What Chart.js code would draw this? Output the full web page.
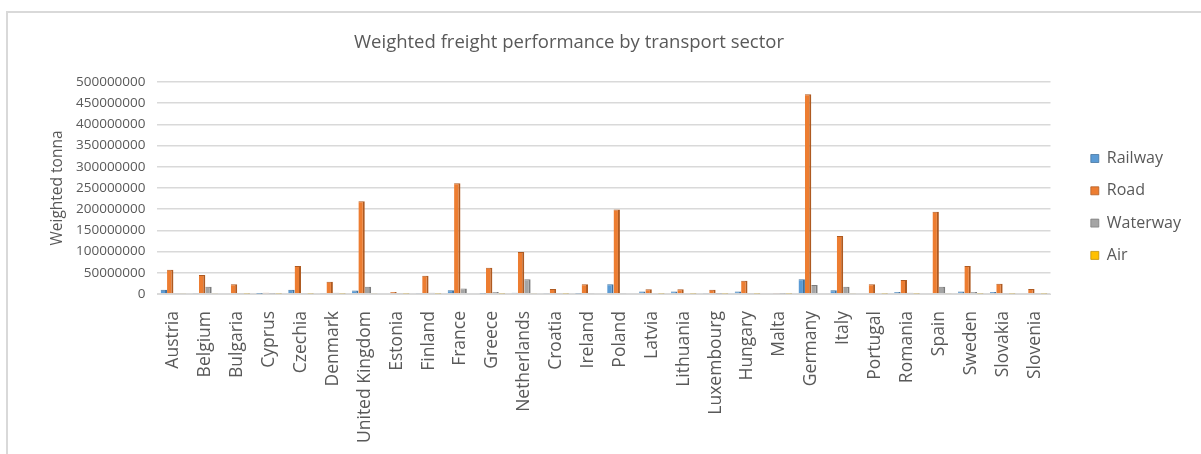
<!DOCTYPE html>
<html>
<head>
<meta charset="utf-8">
<script src="https://cdn.jsdelivr.net/npm/chart.js@4/dist/chart.umd.min.js"></script>
<style>
  html, body { margin: 0; padding: 0; background: #fff; overflow: hidden; }
  #frame {
    position: absolute; left: 6px; top: 11px;
    width: 1200px; height: 450px;
    border-left: 2px solid #d9d9d9; border-top: 2px solid #d9d9d9;
  }
  #wrap { position: absolute; left: 0; top: 0; width: 1193px; height: 441px; }
</style>
</head>
<body>
<div id="frame"><div id="wrap"><canvas id="freightChart"></canvas></div></div>
<script>
// values in millions of weighted tonnes
const countries = ['Austria', 'Belgium', 'Bulgaria', 'Cyprus', 'Czechia', 'Denmark', 'United Kingdom',
    'Estonia', 'Finland', 'France', 'Greece', 'Netherlands', 'Croatia', 'Ireland', 'Poland', 'Latvia',
    'Lithuania', 'Luxembourg', 'Hungary', 'Malta', 'Germany', 'Italy', 'Portugal', 'Romania', 'Spain',
    'Sweden', 'Slovakia', 'Slovenia'];
const railway = [10, 1, 2, 0.2, 10, 1, 8, 2, 1, 9, 0.5, 3, 1, 0.5, 23, 6, 6, 1, 6, 0, 35, 9, 2, 5, 2, 6, 5, 2];
const road = [57, 45, 23, 3, 66, 29, 219, 5, 43, 261, 62, 99, 12, 23, 199, 11, 11, 10, 31, 1, 471, 137, 23, 33, 194, 66, 24, 12];
const waterway = [1, 17, 1, 0.3, 1, 3, 17, 1, 3, 13, 5, 35, 1, 1, 1, 2, 2, 0.5, 1, 0.5, 21, 17, 2, 3, 17, 5, 1, 1];
const air = [1, 1, 0.5, 0.3, 0.5, 0.5, 1, 0.3, 0.5, 1.5, 0.5, 1, 0.3, 2, 2, 0.3, 0.3, 0.5, 0.5, 0.3, 1.5, 1, 0.5, 0.5, 1, 0.5, 0.3, 0.3];
const UNIT = 1000000;
const yMax = 500000000;
const yStep = 50000000;

const FONT = "'Open Sans', 'Noto Sans', sans-serif";
const TEXT = '#595959';

function series(label, values, fill, edge) {
    return {
        label: label,
        data: values.map(v => v * UNIT),
        backgroundColor: fill,
        borderColor: edge,
        borderWidth: { top: 1, right: 2, left: 0, bottom: 0 },
        borderSkipped: false,
        categoryPercentage: 0.8,
        barPercentage: 1.0
    };
}

// Chart title and axis title drawn by hand, placed like the Excel original
const textPlugin = {
    id: 'sheetText',
    afterDraw(chart) {
        const c = chart.ctx;
        const area = chart.chartArea;
        c.save();
        c.fillStyle = TEXT;
        c.textAlign = 'center';
        c.textBaseline = 'middle';
        c.font = '18.5px ' + FONT;
        c.fillText('Weighted freight performance by transport sector', 561, 30);
        c.translate(50, (area.top + area.bottom) / 2);
        c.rotate(-Math.PI / 2);
        c.font = '15.5px ' + FONT;
        c.fillText('Weighted tonna', 0, 0);
        c.restore();
    }
};

// push the legend a little away from the plot
const legendNudge = {
    id: 'legendNudge',
    afterLayout(chart) {
        chart.legend.left += 24;
        chart.legend.right += 24;
    }
};

const ctx = document.getElementById('freightChart');
new Chart(ctx, {
    type: 'bar',
    data: {
        labels: countries,
        datasets: [
            series('Railway', railway, '#5B9BD5', '#41719C'),
            series('Road', road, '#ED7D31', '#AE5A21'),
            series('Waterway', waterway, '#A5A5A5', '#7C7C7C'),
            series('Air', air, '#FFC000', '#BC8C00')
        ]
    },
    options: {
        responsive: true,
        maintainAspectRatio: false,
        animation: false,
        layout: { padding: { top: 69, right: 34, left: 56, bottom: 0 } },
        plugins: {
            title: { display: false },
            tooltip: { enabled: false },
            legend: {
                position: 'right',
                align: 'start',
                title: {
                    display: true,
                    text: ' ',
                    font: { family: FONT, size: 16 },
                    padding: { top: 0, bottom: 33 }
                },
                labels: {
                    boxWidth: 8,
                    boxHeight: 8,
                    padding: 16.3,
                    color: TEXT,
                    font: { family: FONT, size: 16 }
                }
            }
        },
        scales: {
            x: {
                grid: { display: false },
                border: { color: '#d9d9d9', width: 1 },
                ticks: {
                    color: TEXT,
                    font: { family: FONT, size: 17.5 },
                    minRotation: 90,
                    maxRotation: 90,
                    autoSkip: false,
                    padding: 9
                },
                afterFit(scale) { scale.height = 160; }
            },
            y: {
                min: 0,
                max: yMax,
                grid: { color: '#d9d9d9', lineWidth: 1.5, drawTicks: false },
                border: { display: false },
                ticks: {
                    stepSize: yStep,
                    color: TEXT,
                    font: { family: FONT, size: 13.5 },
                    padding: 12,
                    callback: v => String(v)
                }
            }
        }
    },
    plugins: [textPlugin, legendNudge]
});
</script>
</body>
</html>
